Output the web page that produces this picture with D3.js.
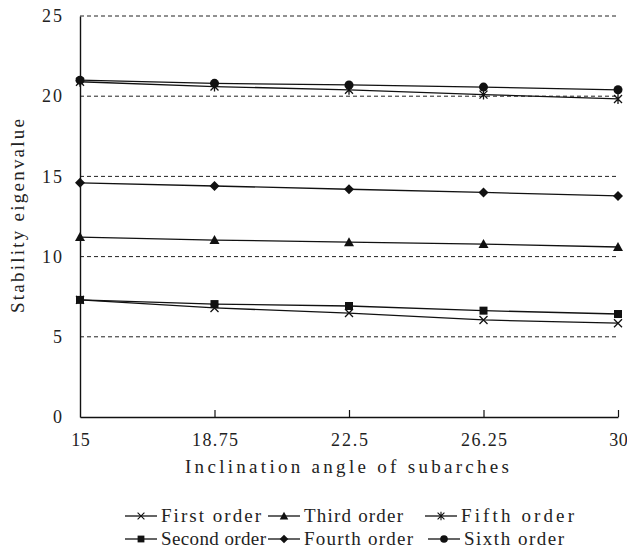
<!DOCTYPE html>
<html>
<head>
<meta charset="utf-8">
<script src="https://cdn.jsdelivr.net/npm/d3@7"></script>
<style>
  body { margin: 0; background: #fff; }
  text { font-family: "Liberation Serif", "DejaVu Serif", serif; fill: #222; }
</style>
</head>
<body>
<div id="chart"></div>
<script>
"use strict"

// data
var angles = [15, 18.75, 22.5, 26.25, 30];
var xTickLabels = ["15", "18.75", "22.5", "26.25", "30"];
var yTicks = [0, 5, 10, 15, 20, 25];

var firstOrder  = [7.30, 6.80, 6.48, 6.05, 5.85];
var secondOrder = [7.30, 7.04, 6.92, 6.63, 6.42];
var thirdOrder  = [11.22, 11.03, 10.90, 10.78, 10.60];
var fourthOrder = [14.60, 14.40, 14.20, 14.00, 13.78];
var fifthOrder  = [20.90, 20.60, 20.40, 20.10, 19.83];
var sixthOrder  = [21.00, 20.80, 20.70, 20.57, 20.40];

var seriesNames = ["First order", "Second order", "Third order", "Fourth order", "Fifth order", "Sixth order"];
var seriesValues = [firstOrder, secondOrder, thirdOrder, fourthOrder, fifthOrder, sixthOrder];
var seriesMarkers = ["cross", "square", "triangle", "diamond", "asterisk", "circle"];

var W = 627, H = 549;
var margin = {top: 16, right: 9, bottom: 132, left: 80};
var width = W - margin.left - margin.right,
    height = H - margin.top - margin.bottom;

var svg = d3.select("#chart").append("svg")
    .attr("width", W).attr("height", H);

var g = svg.append("g")
    .attr("transform", "translate(" + margin.left + "," + margin.top + ")");

var x = d3.scaleLinear().domain([15, 30]).range([0, width]);
var y = d3.scaleLinear().domain([0, 25]).range([height, 0]);

// dashed grid lines
g.append("g").selectAll("line")
  .data(yTicks.filter(d => d > 0))
  .join("line")
    .attr("x1", 0).attr("x2", width)
    .attr("y1", d => y(d)).attr("y2", d => y(d))
    .attr("stroke", "#222").attr("stroke-width", 1)
    .attr("stroke-dasharray", "4,3");

// axes
var xAxis = g.append("g")
    .attr("transform", "translate(0," + height + ")")
    .call(d3.axisBottom(x).tickValues(angles).tickFormat((d, i) => xTickLabels[i])
          .tickSizeInner(-7).tickSizeOuter(0).tickPadding(16));
xAxis.select(".domain").attr("stroke", "#111").attr("stroke-width", 1.4);
xAxis.selectAll(".tick line").attr("stroke", "#111").attr("stroke-width", 1.2);
xAxis.selectAll(".tick").filter(d => d === 15).select("line").remove();
xAxis.selectAll("text").attr("font-size", 18).attr("fill", "#222")
  .attr("textLength", (d, i) => xTickLabels[i].length * 9.2).attr("lengthAdjust", "spacing")
  .style("font-family", "'Liberation Serif', serif");

var yAxis = g.append("g")
    .call(d3.axisLeft(y).tickValues(yTicks).tickSize(0).tickPadding(18));
yAxis.select(".domain").attr("stroke", "#111").attr("stroke-width", 1.4);
yAxis.selectAll("text").attr("font-size", 18).attr("fill", "#222")
  .attr("textLength", d => String(d).length * 10).attr("lengthAdjust", "spacing")
  .style("font-family", "'Liberation Serif', serif");

// axis titles
svg.append("text")
    .attr("x", 347).attr("y", 473)
    .attr("text-anchor", "middle")
    .attr("font-size", 19)
    .attr("textLength", 324).attr("lengthAdjust", "spacing")
    .text("Inclination angle of subarches");

svg.append("text")
    .attr("transform", "translate(24,216) rotate(-90)")
    .attr("text-anchor", "middle")
    .attr("font-size", 19)
    .attr("textLength", 194).attr("lengthAdjust", "spacing")
    .text("Stability eigenvalue");

// markers
function drawMarker(sel, type) {
  if (type === "circle") {
    sel.append("circle").attr("r", 4.5).attr("fill", "#111");
  } else if (type === "square") {
    sel.append("rect").attr("x", -4).attr("y", -4).attr("width", 8).attr("height", 8).attr("fill", "#111");
  } else if (type === "triangle") {
    sel.append("path").attr("d", "M0,-5L5,4L-5,4Z").attr("fill", "#111");
  } else if (type === "diamond") {
    sel.append("path").attr("d", "M0,-5L5,0L0,5L-5,0Z").attr("fill", "#111");
  } else if (type === "cross") {
    sel.append("path").attr("d", "M-4,-4L4,4M-4,4L4,-4")
      .attr("stroke", "#111").attr("stroke-width", 1.3).attr("fill", "none");
  } else if (type === "asterisk") {
    sel.append("path").attr("d", "M-4,-4L4,4M-4,4L4,-4M0,-5L0,5")
      .attr("stroke", "#111").attr("stroke-width", 1.3).attr("fill", "none");
  }
}

var line = d3.line()
    .x((d, i) => x(angles[i]))
    .y(d => y(d));

seriesValues.forEach(function(vals) {
  g.append("path")
    .datum(vals)
    .attr("d", line)
    .attr("fill", "none")
    .attr("stroke", "#111")
    .attr("stroke-width", 1.3);
});

seriesValues.forEach(function(vals, k) {
  g.append("g").selectAll("g")
    .data(vals)
    .join("g")
      .attr("transform", (d, i) => "translate(" + x(angles[i]) + "," + y(d) + ")")
      .each(function() { drawMarker(d3.select(this), seriesMarkers[k]); });
});

// legend, laid out in two rows of three
var legendOrder = [0, 2, 4, 1, 3, 5];
var legendSymX = [125, 268, 425, 125, 268, 428];
var legendTextW = [100, 99, 113, 105, 109, 100];
var legendRowY = [516, 539];

legendOrder.forEach(function(k, j) {
  var sx = legendSymX[j], ry = legendRowY[Math.floor(j / 3)];
  var item = svg.append("g").attr("transform", "translate(" + sx + "," + ry + ")");
  item.append("line")
    .attr("x1", 0).attr("x2", 32).attr("y1", 0).attr("y2", 0)
    .attr("stroke", "#111").attr("stroke-width", 1.3);
  var m = item.append("g").attr("transform", "translate(16,0) scale(0.85)");
  drawMarker(m, seriesMarkers[k]);
  item.append("text")
    .attr("x", 36).attr("y", 6)
    .attr("font-size", 19)
    .attr("textLength", legendTextW[j]).attr("lengthAdjust", "spacing")
    .text(seriesNames[k]);
});
</script>
</body>
</html>
